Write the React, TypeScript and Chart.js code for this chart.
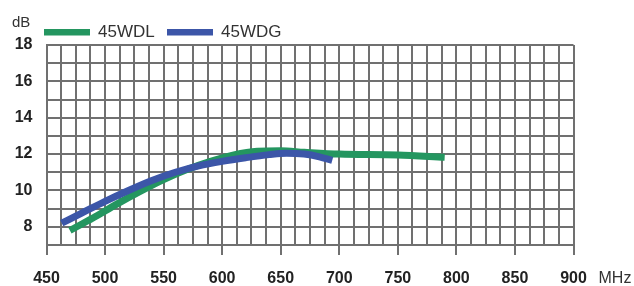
import React, { useEffect, useRef } from "react";
import { Chart, registerables } from "chart.js";

Chart.register(...registerables);

const seriesNames = ["45WDL", "45WDG"];
const seriesColors = ["#249660", "#3c56a8"];

const freqWDL = [470, 490, 510, 530, 550, 570, 590, 610, 630, 650, 670, 700, 750, 790];
const gainWDL = [7.8, 8.5, 9.25, 9.95, 10.6, 11.15, 11.6, 11.95, 12.15, 12.18, 12.1, 12.0, 11.95, 11.82];

const freqWDG = [463, 480, 500, 520, 540, 560, 580, 600, 620, 640, 655, 670, 683, 694];
const gainWDG = [8.2, 8.75, 9.4, 10.0, 10.55, 11.0, 11.35, 11.6, 11.8, 11.97, 12.05, 12.0, 11.85, 11.65];

const xMin = 450;
const xMax = 900;
const xStep = 12.5;
const xLabelStep = 50;
const yMin = 7;
const yMax = 18;
const yLabelStep = 2;
const yUnit = "dB";
const xUnit = "MHz";

const FONT = "'Liberation Sans', Arial, sans-serif";
const GRID = "#707070";

const overlayPlugin = {
  id: "overlay",
  afterDraw(chart: any) {
    const ctx = chart.ctx;
    const area = chart.chartArea;
    ctx.save();
    ctx.fillStyle = "#333";
    ctx.font = `15px ${FONT}`;
    ctx.textBaseline = "middle";
    ctx.textAlign = "left";
    ctx.fillText(yUnit, 12, 23);
    ctx.font = `16px ${FONT}`;
    ctx.fillText(xUnit, area.right + 25, 279);
    const items = [
      { x: 44, text: seriesNames[0], color: seriesColors[0] },
      { x: 167, text: seriesNames[1], color: seriesColors[1] },
    ];
    ctx.font = `17px ${FONT}`;
    for (const it of items) {
      ctx.fillStyle = it.color;
      ctx.fillRect(it.x, 29, 46, 6.5);
      ctx.fillStyle = "#333";
      ctx.fillText(it.text, it.x + 54, 32);
    }
    ctx.restore();
  },
};

export default function App() {
  const ref = useRef<HTMLCanvasElement | null>(null);
  useEffect(() => {
    const canvas = ref.current;
    if (!canvas) return;
    const chart = new Chart(canvas, {
      type: "line",
      data: {
        datasets: [
          {
            label: seriesNames[0],
            data: freqWDL.map((f, i) => ({ x: f, y: gainWDL[i] })),
            borderColor: seriesColors[0],
            borderWidth: 7,
            pointRadius: 0,
            cubicInterpolationMode: "monotone",
            borderCapStyle: "butt",
            fill: false,
            order: 2,
          },
          {
            label: seriesNames[1],
            data: freqWDG.map((f, i) => ({ x: f, y: gainWDG[i] })),
            borderColor: seriesColors[1],
            borderWidth: 7,
            pointRadius: 0,
            cubicInterpolationMode: "monotone",
            borderCapStyle: "butt",
            fill: false,
            order: 1,
          },
        ],
      },
      options: {
        animation: false,
        responsive: false,
        maintainAspectRatio: false,
        devicePixelRatio: 1,
        layout: { padding: { left: 0, right: 60.5, top: 45, bottom: 0 } },
        plugins: { legend: { display: false }, tooltip: { enabled: false } },
        scales: {
          x: {
            type: "linear",
            min: xMin,
            max: xMax,
            afterBuildTicks: (axis: any) => {
              const t = [];
              for (let v = xMin; v <= xMax + 1e-6; v += xStep) t.push({ value: v });
              axis.ticks = t;
            },
            afterFit: (axis: any) => {
              axis.height = 41;
            },
            grid: {
              color: GRID,
              lineWidth: 2,
              tickLength: 10,
              tickWidth: 2,
              tickColor: (c: any) =>
                c.tick && Math.abs(c.tick.value % xLabelStep) < 1e-6 ? GRID : "rgba(0,0,0,0)",
            },
            border: { display: true, color: GRID, width: 2 },
            ticks: {
              autoSkip: false,
              maxRotation: 0,
              padding: 14,
              color: "#222",
              font: { family: FONT, size: 16, weight: "bold" },
              callback: (v: any) => (Math.abs(Number(v) % xLabelStep) < 1e-6 ? String(v) : ""),
            },
          },
          y: {
            type: "linear",
            min: yMin,
            max: yMax,
            afterBuildTicks: (axis: any) => {
              const t = [];
              for (let v = yMin; v <= yMax; v += 1) t.push({ value: v });
              axis.ticks = t;
            },
            afterFit: (axis: any) => {
              axis.width = 46.5;
            },
            grid: { color: GRID, lineWidth: 2, drawTicks: false },
            border: { display: true, color: GRID, width: 2 },
            ticks: {
              autoSkip: false,
              padding: 14,
              color: "#222",
              font: { family: FONT, size: 16, weight: "bold" },
              callback: (v: any) =>
                Number(v) >= yMin + 1 && Number(v) % yLabelStep === 0 ? String(v) : "",
            },
          },
        },
      },
      plugins: [overlayPlugin],
    } as any);
    return () => chart.destroy();
  }, []);
  return (
    <div style={{ position: "fixed", left: 0, top: 0, width: 634, height: 286, background: "#fff" }}>
      <canvas ref={ref} width={634} height={286} style={{ width: 634, height: 286, display: "block" }} />
    </div>
  );
}
